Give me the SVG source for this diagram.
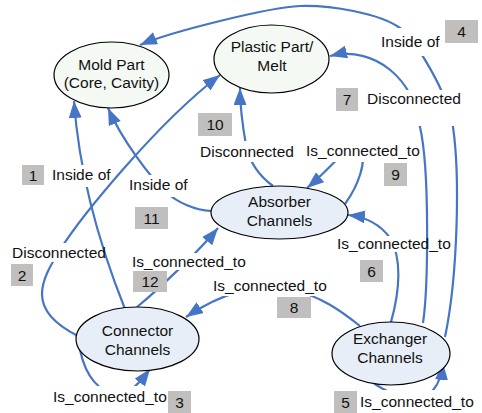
<svg xmlns="http://www.w3.org/2000/svg" width="482" height="413" viewBox="0 0 482 413">
  <defs>
    <marker id="arrow" markerUnits="userSpaceOnUse" markerWidth="18" markerHeight="13" refX="17" refY="6.5" orient="auto">
      <path d="M0,0 L17,6.5 L0,13 Z" fill="#4675c5"/>
    </marker>
    <style>
      .edge { fill: none; stroke: #4675c5; stroke-width: 2.2; marker-end: url(#arrow); }
      .node ellipse { stroke: #000; stroke-width: 1.2; }
      .part ellipse { fill: #f4f9f3; }
      .chan ellipse { fill: #e7eef8; }
      text { font-family: "Liberation Sans", Arial, sans-serif; font-size: 15.5px; fill: #111; }
      .node text { text-anchor: middle; }
      .bg { fill: #fff; }
      .num rect { fill: #c0bfbd; }
      .num text { text-anchor: middle; }
    </style>
  </defs>
  <rect width="482" height="413" fill="#fff"/>

  <!-- connectors -->
  <g id="connectors">
    <!-- 1: Connector Channels -> Mold Part -->
    <path id="e1" class="edge" d="M125,309 C97,239 79,171 74,101"/>
    <!-- 2: Connector Channels -> Plastic Part -->
    <path id="e2" class="edge" d="M78,336 C58,326 42,312 42,294 C42,280 50,266 60,250 C80,218 155,125 220,75"/>
    <!-- 3: Connector Channels self loop -->
    <path id="e3" class="edge" d="M80,350 C86,378 100,392 115,393 C130,394 138,385 150,369"/>
    <!-- 4: Exchanger Channels -> Mold Part -->
    <path id="e4" class="edge" d="M445,337 C458,275 460,175 453,127 C448,92 414,38 400,28 C379,13 330,5 300,6 C270,7 170,32 140,45"/>
    <!-- 5: Exchanger Channels self loop -->
    <path id="e5" class="edge" d="M361,371 C372,385 392,396 412,398 C430,400 441,385 443,363"/>
    <!-- 6: Exchanger Channels -> Absorber Channels -->
    <path id="e6" class="edge" d="M391,322 C400,290 402,258 390,238 C380,224 366,217 348,215"/>
    <!-- 7: Exchanger Channels -> Plastic Part -->
    <path id="e7" class="edge" d="M423,323 C428,290 430,170 420,127 C415,80 375,45 330,56"/>
    <!-- 8: Exchanger Channels -> Connector Channels -->
    <path id="e8" class="edge" d="M360,326 C340,310 320,296 292,290 C255,283 222,293 186,317"/>
    <!-- 9: Absorber Channels self loop -->
    <path id="e9" class="edge" d="M345,204 C358,186 368,160 360,148 C352,138 335,165 307,188"/>
    <!-- 10: Absorber Channels -> Plastic Part -->
    <path id="e10" class="edge" d="M273,186 C262,178 250,165 246,145 C243,128 240,110 240,88"/>
    <!-- 11: Absorber Channels -> Mold Part -->
    <path id="e11" class="edge" d="M211,211 C195,210 178,203 166,192 C150,177 122,140 108,108"/>
    <!-- 12: Connector Channels -> Absorber Channels -->
    <path id="e12" class="edge" d="M137,307 C158,290 200,250 218,228"/>
  </g>

  <!-- edge labels -->
  <g id="labels">
    <g id="l1">
      <rect class="bg" x="50" y="165" width="50" height="22"/>
      <text x="52" y="180">Inside of</text>
      <g class="num"><rect x="22" y="165" width="22" height="20"/><text x="33" y="180.5">1</text></g>
    </g>
    <g id="l2">
      <rect class="bg" x="10" y="243" width="88" height="19"/>
      <text x="12" y="258">Disconnected</text>
      <g class="num"><rect x="11" y="264" width="22" height="22"/><text x="22" y="280.5">2</text></g>
    </g>
    <g id="l3">
      <rect class="bg" x="51" y="386" width="117" height="27"/>
      <text x="53" y="402">Is_connected_to</text>
      <g class="num"><rect x="168" y="391" width="23" height="22"/><text x="179.5" y="407.5">3</text></g>
    </g>
    <g id="l4">
      <rect class="bg" x="380" y="28" width="62" height="28"/>
      <text x="381" y="46.5">Inside of</text>
      <g class="num"><rect x="445" y="20" width="33" height="23"/><text x="461.5" y="37">4</text></g>
    </g>
    <g id="l5">
      <rect class="bg" x="358" y="390" width="119" height="23"/>
      <text x="360" y="407">Is_connected_to</text>
      <g class="num"><rect x="334" y="391" width="23" height="22"/><text x="345.5" y="407.5">5</text></g>
    </g>
    <g id="l6">
      <rect class="bg" x="335" y="236" width="85" height="16"/>
      <text x="337" y="249">Is_connected_to</text>
      <g class="num"><rect x="360" y="260" width="23" height="22"/><text x="371.5" y="276.5">6</text></g>
    </g>
    <g id="l7">
      <rect class="bg" x="362" y="90" width="106" height="36"/>
      <text x="367" y="104">Disconnected</text>
      <g class="num"><rect x="336" y="88" width="22" height="23"/><text x="347" y="105">7</text></g>
    </g>
    <g id="l8">
      <rect class="bg" x="211" y="276" width="119" height="20"/>
      <text x="213" y="290.5">Is_connected_to</text>
      <g class="num"><rect x="277" y="297" width="34" height="21"/><text x="294" y="313">8</text></g>
    </g>
    <g id="l9">
      <rect class="bg" x="330" y="136" width="50" height="26"/>
      <text x="306" y="156">Is_connected_to</text>
      <g class="num"><rect x="384" y="163" width="23" height="23"/><text x="395.5" y="180">9</text></g>
    </g>
    <g id="l10">
      <rect class="bg" x="198" y="141" width="100" height="21"/>
      <text x="200" y="156.5">Disconnected</text>
      <g class="num"><rect x="198" y="113" width="34" height="23"/><text x="215" y="130">10</text></g>
    </g>
    <g id="l11">
      <rect class="bg" x="127" y="175" width="65" height="22"/>
      <text x="129" y="190">Inside of</text>
      <g class="num"><rect x="135" y="207" width="33" height="22"/><text x="151.5" y="223.5">11</text></g>
    </g>
    <g id="l12">
      <rect class="bg" x="130" y="253" width="118" height="17"/>
      <text x="132" y="266.5">Is_connected_to</text>
      <g class="num"><rect x="133" y="271" width="34" height="21"/><text x="150" y="287">12</text></g>
    </g>
  </g>

  <!-- nodes -->
  <g id="mold-part" class="node part">
    <ellipse cx="111.5" cy="75" rx="57.5" ry="33"/>
    <text x="111.5" y="69.5">Mold Part</text>
    <text x="111.5" y="88">(Core, Cavity)</text>
  </g>
  <g id="plastic-part" class="node part">
    <ellipse cx="271.5" cy="59" rx="57.5" ry="34"/>
    <text x="272" y="52">Plastic Part/</text>
    <text x="272" y="71">Melt</text>
  </g>
  <g id="absorber" class="node chan">
    <ellipse cx="279.5" cy="212.5" rx="68.5" ry="26.5"/>
    <text x="279.5" y="207">Absorber</text>
    <text x="279.5" y="226">Channels</text>
  </g>
  <g id="connector" class="node chan">
    <ellipse cx="137.5" cy="339" rx="61.5" ry="32"/>
    <text x="137.5" y="336">Connector</text>
    <text x="137.5" y="354.5">Channels</text>
  </g>
  <g id="exchanger" class="node chan">
    <ellipse cx="391" cy="353.5" rx="59" ry="31.5"/>
    <text x="390" y="344">Exchanger</text>
    <text x="390" y="362.5">Channels</text>
  </g>
</svg>
